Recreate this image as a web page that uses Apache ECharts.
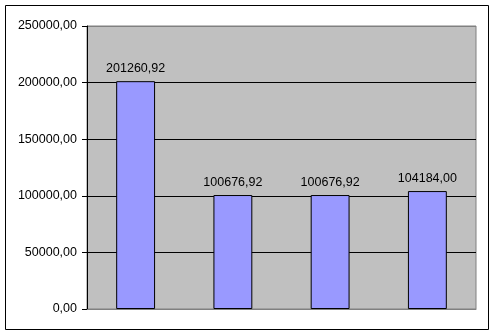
<!DOCTYPE html>
<html>
<head>
<meta charset="utf-8">
<script src="https://cdn.jsdelivr.net/npm/echarts@6/dist/echarts.min.js"></script>
<style>
html,body{margin:0;padding:0;background:#fff;}
#c{width:491px;height:336px;}
</style>
</head>
<body>
<div id="c"></div>
<script>
var categories = ["1", "2", "3", "4"];
var values = [201260.92, 100676.92, 100676.92, 104184.00];
var yMin = 0, yMax = 250000, yStep = 50000;

function fmt(v) { return v.toFixed(2).replace('.', ','); }

var chart = echarts.init(document.getElementById('c'), null, {renderer: 'canvas'});
chart.setOption({
  animation: false,
  backgroundColor: '#ffffff',
  textStyle: {fontFamily: 'Liberation Sans, Arial, sans-serif'},
  graphic: [{
    type: 'rect',
    shape: {x: 5.5, y: 5.5, width: 483, height: 324},
    style: {fill: 'none', stroke: '#000', lineWidth: 1},
    silent: true, z: -1
  }],
  grid: {
    left: 87, top: 26, right: 15, bottom: 27,
    show: true, backgroundColor: '#C0C0C0', borderColor: '#808080', borderWidth: 1
  },
  xAxis: {
    type: 'category',
    data: categories,
    axisLine: {show: true, lineStyle: {color: '#808080', width: 1}},
    axisTick: {show: false},
    axisLabel: {show: false},
    splitLine: {show: false}
  },
  yAxis: {
    type: 'value',
    min: yMin, max: yMax, interval: yStep,
    axisLine: {show: true, lineStyle: {color: '#000', width: 1}},
    axisTick: {show: true, length: 5, inside: false, lineStyle: {color: '#000'}},
    axisLabel: {
      color: '#000', fontSize: 12.5, margin: 10,
      fontFamily: 'Liberation Sans, Arial, sans-serif',
      formatter: function (v) { return fmt(v); }
    },
    splitLine: {show: true, lineStyle: {color: ['#808080', '#000', '#000', '#000', '#000', '#808080'], width: 1}}
  },
  series: [{
    type: 'bar',
    data: values,
    barCategoryGap: '60%',
    itemStyle: {color: '#9999FF', borderColor: '#000', borderWidth: 1},
    label: {
      show: true, position: 'top', distance: 6,
      color: '#000', fontSize: 12.5,
      fontFamily: 'Liberation Sans, Arial, sans-serif',
      formatter: function (p) { return fmt(p.value); }
    }
  }]
});
</script>
</body>
</html>
